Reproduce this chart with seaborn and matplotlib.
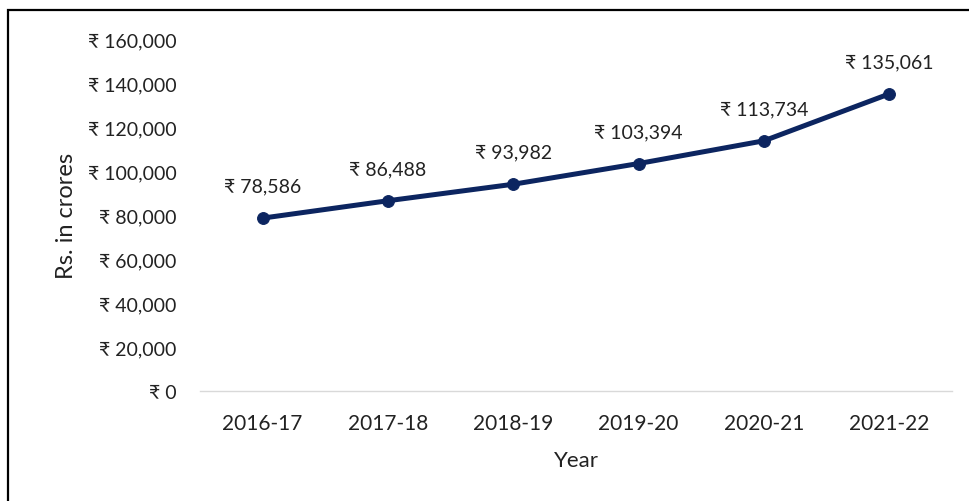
import matplotlib
matplotlib.use("Agg")
import matplotlib.pyplot as plt
import matplotlib.patches as mpatches
import seaborn as sns
import pandas as pd

years = ["2016-17", "2017-18", "2018-19", "2019-20", "2020-21", "2021-22"]
amounts = [78586, 86488, 93982, 103394, 113734, 135061]
y_ticks = [0, 20000, 40000, 60000, 80000, 100000, 120000, 140000, 160000]

sns.set_style("white")
plt.rcParams["font.family"] = ["Lato", "DejaVu Sans"]

line_color = "#0c2560"
text_color = "#222222"

df = pd.DataFrame({"Year": years, "Amount": amounts})

fig = plt.figure(figsize=(9.7, 5.02), dpi=100)
ax = fig.add_axes([200 / 970, 110 / 502, 752 / 970, 352 / 502])

sns.lineplot(data=df, x="Year", y="Amount", ax=ax, color=line_color,
             linewidth=3.6, marker="o", markersize=8.5,
             markeredgecolor=line_color, sort=False)

ax.set_xlim(-0.5, len(years) - 0.5)
ax.set_ylim(0, 160000)
ax.set_yticks(y_ticks)
ax.set_yticklabels([f"₹ {v:,}" for v in y_ticks])

for i, v in enumerate(amounts):
    ax.annotate(f"₹ {v:,}", (i, v), xytext=(0, 17), textcoords="offset points",
                ha="center", va="bottom", fontsize=14, color=text_color,
                clip_on=False)

for side in ["top", "right", "left"]:
    ax.spines[side].set_visible(False)
ax.spines["bottom"].set_color("#d9d9d9")
ax.spines["bottom"].set_linewidth(1.0)

ax.tick_params(axis="y", length=0, pad=17, labelsize=14, labelcolor=text_color)
ax.tick_params(axis="x", length=0, pad=16, labelsize=15, labelcolor=text_color)

ax.set_xlabel("Year", fontsize=16, color=text_color, labelpad=12)
ax.set_ylabel("Rs. in crores", fontsize=17, color=text_color, labelpad=8)

# outer frame around the chart area
frame = mpatches.Rectangle((8 / 970, -0.1), 1.2, 0.1 + (502 - 11) / 502,
                           transform=fig.transFigure, fill=False,
                           edgecolor="black", linewidth=1.6, clip_on=False)
fig.patches.append(frame)

fig.savefig("out.png", dpi=100)
